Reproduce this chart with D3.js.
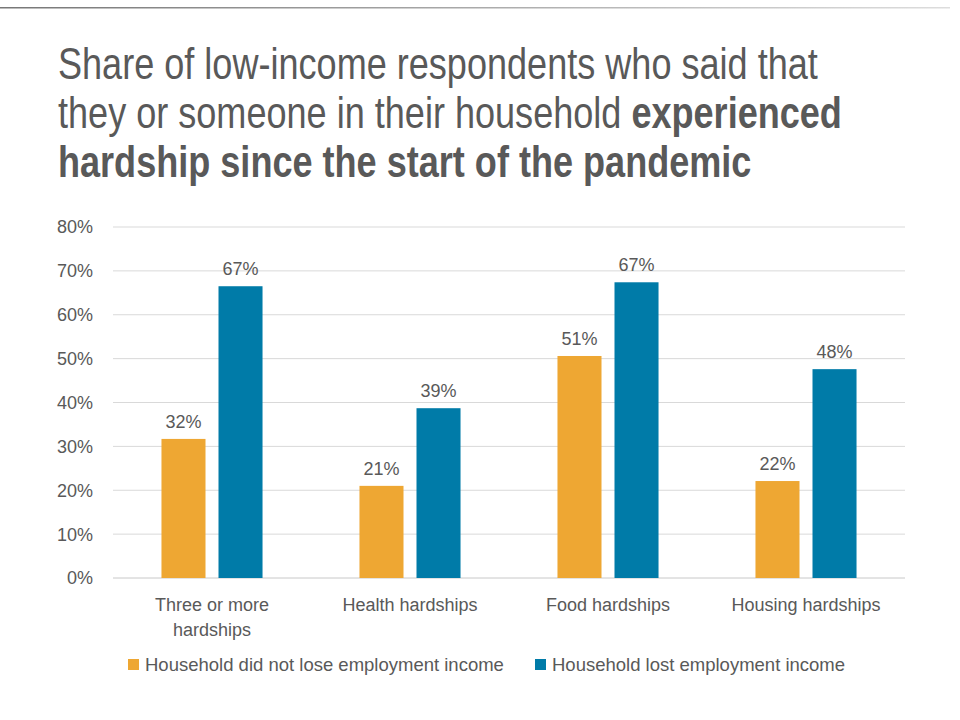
<!DOCTYPE html>
<html>
<head>
<meta charset="utf-8">
<script src="https://cdn.jsdelivr.net/npm/d3@7"></script>
<style>
  body { margin: 0; background: #fff; }
  svg text { font-family: "Liberation Sans", Arial, sans-serif; fill: #595959; }
</style>
</head>
<body>
<div id="chart"></div>
<script>
var categories = [["Three or more", "hardships"], ["Health hardships"], ["Food hardships"], ["Housing hardships"]];
var seriesNames = ["Household did not lose employment income", "Household lost employment income"];
var notLost = [0.317, 0.210, 0.506, 0.221];
var lost = [0.665, 0.387, 0.674, 0.476];
var yTicks = [0, 0.1, 0.2, 0.3, 0.4, 0.5, 0.6, 0.7, 0.8];
var colors = ["#EEA733", "#007BA8"];

var width = 960, height = 720;
var margin = {top: 227, right: 55, bottom: 142, left: 113};

var svg = d3.select("#chart").append("svg")
  .attr("width", width)
  .attr("height", height);

// thin rule at the very top
var grad = svg.append("defs").append("linearGradient").attr("id", "rule");
grad.append("stop").attr("offset", "0%").attr("stop-color", "#777");
grad.append("stop").attr("offset", "100%").attr("stop-color", "#ddd");
svg.append("rect").attr("x", 0).attr("y", 7).attr("width", 950).attr("height", 1.5).attr("fill", "url(#rule)");

// title (condensed look by squeezing horizontally)
var title = svg.append("g").attr("transform", "translate(58,0) scale(0.82,1)")
  .append("text").attr("x", 0).attr("y", 79).style("font-size", "44px");
title.append("tspan").text("Share of low-income respondents who said that");
var t2 = title.append("tspan").attr("x", 0).attr("dy", 49);
t2.append("tspan").text("they or someone in their household ");
t2.append("tspan").style("font-weight", "bold").text("experienced");
title.append("tspan").attr("x", 0).attr("dy", 49).style("font-weight", "bold")
  .text("hardship since the start of the pandemic");

var g = svg.append("g").attr("transform", "translate(" + margin.left + "," + margin.top + ")");
var w = width - margin.left - margin.right;
var h = height - margin.top - margin.bottom;

var x0 = d3.scaleBand().domain(d3.range(categories.length)).range([0, w]);
var x1 = d3.scaleBand().domain([0, 1]).range([0, x0.bandwidth()]).paddingInner(0.228).paddingOuter(0.85);
var y = d3.scaleLinear().domain([0, 0.8]).range([h, 0]);

// gridlines
g.selectAll(".grid").data(yTicks).enter().append("line")
  .attr("x1", 0).attr("x2", w)
  .attr("y1", function(d) { return y(d); }).attr("y2", function(d) { return y(d); })
  .attr("stroke", function(d) { return d === 0 ? "#c8c8c8" : "#d9d9d9"; })
  .attr("stroke-width", 1);

// y axis labels
g.selectAll(".ylab").data(yTicks).enter().append("text")
  .attr("x", -20).attr("y", function(d) { return y(d); }).attr("dy", "0.36em")
  .attr("text-anchor", "end").style("font-size", "18px")
  .text(d3.format(".0%"));

var data = categories.map(function(c, i) { return [notLost[i], lost[i]]; });

var groups = g.selectAll(".grp").data(data).enter().append("g")
  .attr("transform", function(d, i) { return "translate(" + x0(i) + ",0)"; });

groups.selectAll("rect").data(function(d) { return d; }).enter().append("rect")
  .attr("x", function(d, j) { return x1(j); })
  .attr("width", x1.bandwidth())
  .attr("y", function(d) { return y(d); })
  .attr("height", function(d) { return h - y(d); })
  .attr("fill", function(d, j) { return colors[j]; });

groups.selectAll(".val").data(function(d) { return d; }).enter().append("text")
  .attr("x", function(d, j) { return x1(j) + x1.bandwidth() / 2; })
  .attr("y", function(d) { return y(d) - 11; })
  .attr("text-anchor", "middle").style("font-size", "18px")
  .text(d3.format(".0%"));

// category labels
var cl = g.selectAll(".cat").data(categories).enter().append("text")
  .attr("text-anchor", "middle").style("font-size", "18px")
  .attr("transform", function(d, i) { return "translate(" + (x0(i) + x0.bandwidth() / 2) + "," + (h + 33) + ")"; });
cl.selectAll("tspan").data(function(d) { return d; }).enter().append("tspan")
  .attr("x", 0).attr("dy", function(d, k) { return k ? 25 : 0; })
  .text(function(d) { return d; });

// legend
var legendX = [128, 535];
var leg = svg.selectAll(".leg").data(seriesNames).enter().append("g")
  .attr("transform", function(d, i) { return "translate(" + legendX[i] + ",659)"; });
leg.append("rect").attr("width", 11).attr("height", 11).attr("fill", function(d, i) { return colors[i]; });
leg.append("text").attr("x", 17).attr("y", 12).style("font-size", "18.5px").text(function(d) { return d; });
</script>
</body>
</html>
